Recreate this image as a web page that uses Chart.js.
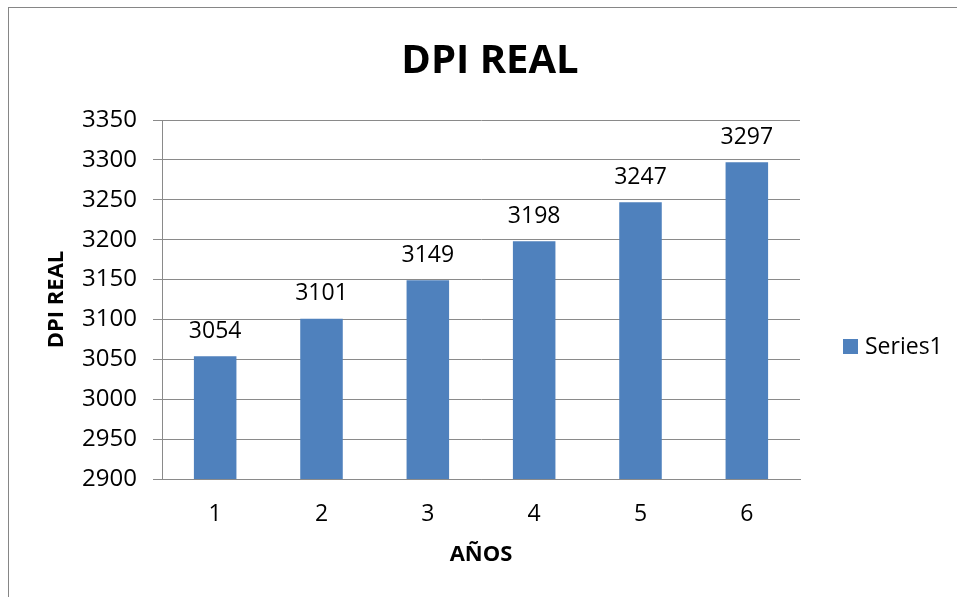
<!DOCTYPE html>
<html>
<head>
<meta charset="utf-8">
<script src="https://cdn.jsdelivr.net/npm/chart.js@4.4.0/dist/chart.umd.min.js"></script>
<style>
    html, body { margin: 0; padding: 0; background: #fff; overflow: hidden; }
    #frame {
        position: absolute; left: 8px; top: 7px;
        width: 962px; height: 600px;
        border: 1px solid #868686;
    }
    #frame canvas { display: block; }
</style>
</head>
<body>
<div id="frame"><canvas id="dpiChart" width="962" height="600"></canvas></div>
<script>
// chart data
const years = ['1', '2', '3', '4', '5', '6'];
const dpiReal = [3054, 3101, 3149, 3198, 3247, 3297];
const seriesName = 'Series1';
const yMin = 2900;
const yMax = 3350;
const yStep = 50;

const barColor = '#4F81BD';
const gridColor = '#8A8A8A';
const fontFamily = "'Open Sans', 'DejaVu Sans', sans-serif";

// value labels above each bar
const valueLabels = {
    id: 'valueLabels',
    afterDatasetsDraw: function (chart) {
        const ctx = chart.ctx;
        const meta = chart.getDatasetMeta(0);
        ctx.save();
        ctx.font = '23px ' + fontFamily;
        ctx.fillStyle = '#000';
        ctx.textAlign = 'center';
        ctx.textBaseline = 'middle';
        meta.data.forEach(function (bar, i) {
            ctx.fillText(String(chart.data.datasets[0].data[i]), bar.x, bar.y - 25);
        });
        ctx.restore();
    }
};

// Excel style legend on the right
const sideLegend = {
    id: 'sideLegend',
    afterDraw: function (chart) {
        const ctx = chart.ctx;
        const ds = chart.data.datasets[0];
        const x = chart.chartArea.right + 43;
        const y = 331;
        ctx.save();
        ctx.fillStyle = ds.backgroundColor;
        ctx.fillRect(x, y, 15, 15);
        ctx.font = '23px ' + fontFamily;
        ctx.fillStyle = '#000';
        ctx.textAlign = 'left';
        ctx.textBaseline = 'middle';
        ctx.fillText(ds.label, x + 22, y + 8);
        ctx.restore();
    }
};

const ctx = document.getElementById('dpiChart');
new Chart(ctx, {
    type: 'bar',
    data: {
        labels: years,
        datasets: [{
            label: seriesName,
            data: dpiReal,
            backgroundColor: barColor,
            borderWidth: 0,
            barPercentage: 0.4,
            categoryPercentage: 1.0
        }]
    },
    options: {
        responsive: false,
        animation: false,
        layout: {
            padding: 0
        },
        plugins: {
            legend: { display: false },
            tooltip: { enabled: false },
            title: {
                display: true,
                text: 'DPI REAL',
                color: '#000',
                font: { family: fontFamily, size: 40, weight: 'bold', lineHeight: 1.2 },
                padding: { top: 30, bottom: 34 }
            }
        },
        scales: {
            x: {
                grid: { display: false, drawTicks: false },
                border: { display: true, color: gridColor, width: 1 },
                ticks: {
                    color: '#000',
                    padding: 22,
                    font: { family: fontFamily, size: 23 }
                },
                title: {
                    display: true,
                    text: 'AÑOS',
                    color: '#000',
                    font: { family: fontFamily, size: 22, weight: 'bold', lineHeight: 1.2 },
                    padding: { top: 0, bottom: 40 }
                },
                afterFit: function (scale) { scale.height = 129; }
            },
            y: {
                min: yMin,
                max: yMax,
                grid: {
                    color: gridColor,
                    lineWidth: 1,
                    tickLength: 9,
                    drawTicks: true
                },
                border: { display: true, color: gridColor, width: 1 },
                ticks: {
                    stepSize: yStep,
                    color: '#000',
                    padding: 16,
                    font: { family: fontFamily, size: 24 },
                    callback: function (value) { return String(value); }
                },
                title: {
                    display: true,
                    text: 'DPI REAL',
                    color: '#000',
                    font: { family: fontFamily, size: 22, weight: 'bold', lineHeight: 1.2 },
                    padding: { top: 35, bottom: 4 }
                },
                afterFit: function (scale) { scale.width = 153; }
            },
            // empty space on the right that holds the legend
            legendSpace: {
                type: 'linear',
                position: 'right',
                display: true,
                grid: { display: false, drawTicks: false },
                border: { display: false },
                ticks: { display: false },
                afterFit: function (scale) { scale.width = 171; }
            }
        }
    },
    plugins: [valueLabels, sideLegend]
});
</script>
</body>
</html>
